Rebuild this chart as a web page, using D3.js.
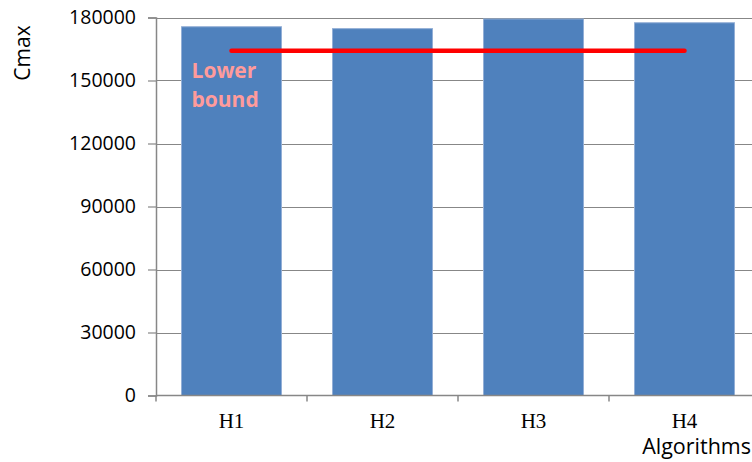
<!DOCTYPE html>
<html>
<head>
<meta charset="utf-8">
<script src="https://cdn.jsdelivr.net/npm/d3@7"></script>
<style>
  html, body { margin: 0; padding: 0; background: #fff; }
  svg { display: block; }
</style>
</head>
<body>
<svg id="chart" width="752" height="462"></svg>
<script>
// Makespan per heuristic, with the common lower bound
const algorithms = ["H1", "H2", "H3", "H4"];
const cmaxValues = [175600, 174700, 179300, 177500];
const lowerBound = [164200, 164200, 164200, 164200];
const yTicks = [0, 30000, 60000, 90000, 120000, 150000, 180000];

const svg = d3.select("#chart");
const plotLeft = 156, plotTop = 17.5, plotBottom = 395.5, plotRight = 760;

const x = d3.scaleBand()
  .domain(algorithms)
  .range([plotLeft, plotRight])
  .paddingInner(0.338)
  .paddingOuter(0.169);

const y = d3.scaleLinear()
  .domain([0, 180000])
  .range([plotBottom, plotTop]);

const gridColor = "#878787";
const labelFont = "'Open Sans', 'Liberation Sans', sans-serif";

// horizontal gridlines
svg.append("g")
  .selectAll("line")
  .data(yTicks.filter(d => d > 0))
  .join("line")
  .attr("x1", plotLeft).attr("x2", plotRight)
  .attr("y1", d => Math.round(y(d)) + 0.5)
  .attr("y2", d => Math.round(y(d)) + 0.5)
  .attr("stroke", gridColor)
  .attr("stroke-width", 1.2);

// bars
svg.append("g")
  .selectAll("rect")
  .data(algorithms)
  .join("rect")
  .attr("x", d => x(d))
  .attr("width", x.bandwidth())
  .attr("y", (d, i) => y(cmaxValues[i]))
  .attr("height", (d, i) => y(0) - y(cmaxValues[i]))
  .attr("fill", "#4F81BD")
  .attr("stroke", "#93AFD6")
  .attr("stroke-width", 1);

// y axis
const yAxis = d3.axisLeft(y).tickValues(yTicks).tickSize(8).tickPadding(12)
  .tickFormat(d3.format("d"));
const gy = svg.append("g")
  .attr("transform", `translate(${plotLeft},0)`)
  .call(yAxis);
gy.select(".domain").attr("stroke", gridColor).attr("stroke-width", 1.5);
gy.selectAll(".tick line").attr("stroke", gridColor).attr("stroke-width", 1.2);
gy.selectAll(".tick text")
  .attr("fill", "#000")
  .style("font-family", labelFont)
  .style("font-size", "19.5px");

// x axis with ticks between categories
const xBoundaries = algorithms.map(d => x(d) - x.step() * x.paddingInner() / 2);
const gx = svg.append("g");
gx.append("line")
  .attr("x1", plotLeft).attr("x2", plotRight)
  .attr("y1", plotBottom).attr("y2", plotBottom)
  .attr("stroke", gridColor).attr("stroke-width", 1.5);
gx.selectAll("line.tick")
  .data(xBoundaries)
  .join("line")
  .attr("class", "tick")
  .attr("x1", d => d).attr("x2", d => d)
  .attr("y1", plotBottom).attr("y2", plotBottom + 6)
  .attr("stroke", gridColor).attr("stroke-width", 1.5);
gx.selectAll("text")
  .data(algorithms)
  .join("text")
  .attr("x", d => x(d) + x.bandwidth() / 2)
  .attr("y", 428)
  .attr("text-anchor", "middle")
  .style("font-family", "'Liberation Serif', 'Times New Roman', serif")
  .style("font-size", "21px")
  .text(d => d);

// lower bound line
const line = d3.line()
  .x(d => x(d) + x.bandwidth() / 2)
  .y((d, i) => y(lowerBound[i]));
svg.append("path")
  .datum(algorithms)
  .attr("d", line)
  .attr("fill", "none")
  .attr("stroke", "#FF0000")
  .attr("stroke-width", 4.5)
  .attr("stroke-linecap", "round");

// lower bound annotation
const ann = svg.append("text")
  .attr("x", x("H1") + 10)
  .attr("y", y(lowerBound[0]) + 27)
  .attr("fill", "#FF9B9B")
  .style("font-family", labelFont)
  .style("font-weight", "bold")
  .style("font-size", "21px");
ann.append("tspan").attr("x", x("H1") + 10).text("Lower");
ann.append("tspan").attr("x", x("H1") + 10).attr("dy", 29).text("bound");

// axis titles
svg.append("text")
  .attr("transform", "translate(30,53) rotate(-90)")
  .attr("text-anchor", "middle")
  .style("font-family", labelFont)
  .style("font-size", "21px")
  .text("Cmax");

svg.append("text")
  .attr("x", 751)
  .attr("y", 454)
  .attr("text-anchor", "end")
  .style("font-family", labelFont)
  .style("font-size", "21.5px")
  .text("Algorithms");
</script>
</body>
</html>
